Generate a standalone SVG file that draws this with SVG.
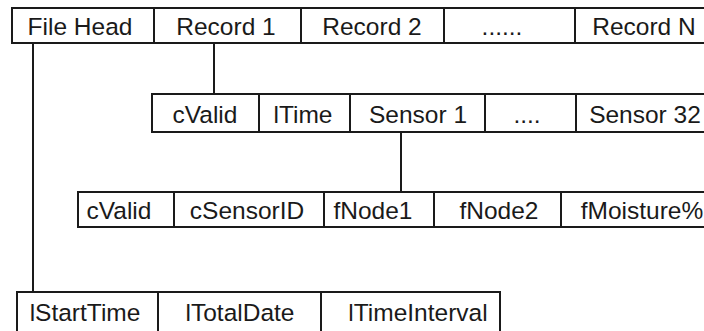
<svg xmlns="http://www.w3.org/2000/svg" width="704" height="331" viewBox="0 0 704 331">
  <style>
    .cell rect { fill: #ffffff; stroke: #1a1a1a; stroke-width: 2; }
    .cell text { font-family: "Liberation Sans", Arial, sans-serif; font-size: 24.5px; fill: #1a1a1a; text-anchor: middle; }
    .link { stroke: #1a1a1a; stroke-width: 2; fill: none; }
  </style>
  <rect x="0" y="0" width="704" height="331" fill="#ffffff"/>

  <!-- connectors -->
  <g id="connectors">
    <line class="link" x1="33" y1="43" x2="33" y2="292"/>
    <line class="link" x1="214" y1="43" x2="214" y2="94"/>
    <line class="link" x1="401" y1="132" x2="401" y2="192"/>
  </g>

  <!-- file layout -->
  <g id="file-head" class="cell"><rect x="12" y="8" width="142" height="35"/><text x="80" y="35">File Head</text></g>
  <g id="record-1" class="cell"><rect x="154" y="8" width="147" height="35"/><text x="226" y="35">Record 1</text></g>
  <g id="record-2" class="cell"><rect x="301" y="8" width="143" height="35"/><text x="372" y="35">Record 2</text></g>
  <g id="record-more" class="cell"><rect x="444" y="8" width="131" height="35"/><text x="502" y="35">......</text></g>
  <g id="record-n" class="cell"><rect x="575" y="8" width="140" height="35"/><text x="644" y="35">Record N</text></g>

  <!-- record layout -->
  <g id="rec-cvalid" class="cell"><rect x="152" y="94" width="107" height="38"/><text x="205" y="123">cValid</text></g>
  <g id="rec-ltime" class="cell"><rect x="259" y="94" width="91" height="38"/><text x="303" y="123">lTime</text></g>
  <g id="sensor-1" class="cell"><rect x="350" y="94" width="135" height="38"/><text x="418" y="123">Sensor 1</text></g>
  <g id="sensor-more" class="cell"><rect x="485" y="94" width="91" height="38"/><text x="527" y="123">....</text></g>
  <g id="sensor-32" class="cell"><rect x="576" y="94" width="140" height="38"/><text x="645" y="123">Sensor 32</text></g>

  <!-- sensor layout -->
  <g id="sen-cvalid" class="cell"><rect x="78" y="192" width="96" height="35"/><text x="119" y="219">cValid</text></g>
  <g id="sen-id" class="cell"><rect x="174" y="192" width="150" height="35"/><text x="247" y="219">cSensorID</text></g>
  <g id="sen-node1" class="cell"><rect x="324" y="192" width="110" height="35"/><text x="373" y="219">fNode1</text></g>
  <g id="sen-node2" class="cell"><rect x="434" y="192" width="127" height="35"/><text x="499" y="219">fNode2</text></g>
  <g id="sen-moisture" class="cell"><rect x="561" y="192" width="160" height="35"/><text x="642" y="219">fMoisture%</text></g>

  <!-- file head layout -->
  <g id="head-start" class="cell"><rect x="17" y="292" width="141" height="50"/><text x="85" y="321">lStartTime</text></g>
  <g id="head-total" class="cell"><rect x="158" y="292" width="163" height="50"/><text x="240" y="321">lTotalDate</text></g>
  <g id="head-interval" class="cell"><rect x="321" y="292" width="179" height="50"/><text x="418" y="321">lTimeInterval</text></g>
</svg>
